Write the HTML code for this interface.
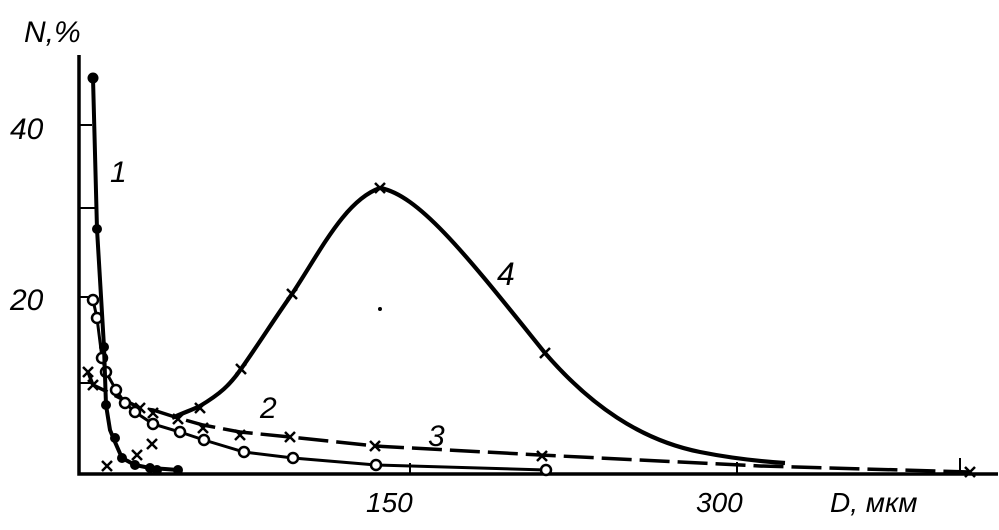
<!DOCTYPE html>
<html><head><meta charset="utf-8"><style>
html,body{margin:0;padding:0;background:#fff}
svg{display:block}
text{font-family:"Liberation Sans",sans-serif;font-style:italic;fill:#000}
</style></head><body>
<svg width="999" height="530" viewBox="0 0 999 530" xmlns="http://www.w3.org/2000/svg">
<defs>
<g id="x"><path d="M-5,-5L5,5M5,-5L-5,5" stroke="#000" stroke-width="2.5"/></g>
</defs>
<path d="M79,55V474H998" fill="none" stroke="#000" stroke-width="3.5"/>
<path d="M79,125H92M79,208H95M79,297H92M79,383H92M410,463V474M737,462V474M960,458V474" stroke="#000" stroke-width="2"/>
<text x="24" y="42" font-size="30">N,%</text>
<text x="10" y="139" font-size="30">40</text>
<text x="10" y="310" font-size="30">20</text>
<text x="366" y="512" font-size="28">150</text>
<text x="696" y="512" font-size="28">300</text>
<text x="830" y="512" font-size="28">D, мкм</text>
<text x="110" y="182" font-size="30">1</text>
<text x="260" y="418" font-size="30">2</text>
<text x="428" y="446" font-size="30">3</text>
<text x="497" y="285" font-size="32">4</text>
<circle cx="380" cy="309" r="2"/>
<path d="M172,418 C185,412 192,410 200,406 C220,394 230,385 241,369 C260,342 275,318 292,294 C320,252 345,200 380,188 C420,195 470,260 545,353 C590,405 640,440 700,452 C740,460 770,462 785,463" fill="none" stroke="#000" stroke-width="4.2"/>
<use href="#x" x="200" y="408"/><use href="#x" x="241" y="369"/><use href="#x" x="292" y="294"/><use href="#x" x="380" y="188"/><use href="#x" x="545" y="353"/>
<path d="M88,372 L93,385 L120,398 L140,408 L153,410 L178,418 L203,425 L240,432 L290,437 L375,446 L540,455 L760,466 L970,472" fill="none" stroke="#000" stroke-width="3.5" stroke-dasharray="30,8"/>
<use href="#x" x="88" y="372"/><use href="#x" x="93" y="385"/><use href="#x" x="140" y="408"/><use href="#x" x="153" y="413"/><use href="#x" x="178" y="419"/><use href="#x" x="203" y="428"/><use href="#x" x="240" y="435"/><use href="#x" x="290" y="437"/><use href="#x" x="375" y="446"/><use href="#x" x="542" y="456"/><use href="#x" x="970" y="472"/>
<use href="#x" x="107" y="466"/><use href="#x" x="137" y="455"/><use href="#x" x="152" y="444"/>
<path d="M93,300 L97,318 L102,358 L106,372 L116,390 L125,403 L135,412 L153,424 L180,432 L204,440 L244,452 L293,458 L376,465 L546,470" fill="none" stroke="#000" stroke-width="3"/>
<g fill="#fff" stroke="#000" stroke-width="2.5">
<circle cx="93" cy="300" r="5"/><circle cx="97" cy="318" r="5"/><circle cx="102" cy="358" r="5"/><circle cx="106" cy="372" r="5"/><circle cx="116" cy="390" r="5"/><circle cx="125" cy="403" r="5"/><circle cx="135" cy="412" r="5"/><circle cx="153" cy="424" r="5"/><circle cx="180" cy="432" r="5"/><circle cx="204" cy="440" r="5"/><circle cx="244" cy="452" r="5"/><circle cx="293" cy="458" r="5"/><circle cx="376" cy="465" r="5"/><circle cx="546" cy="470" r="5"/>
</g>
<path d="M93,78 L97,229 L104,347 L106,405 L110,430 L115,442 L122,458 L135,465 L150,468 L165,469 L178,470" fill="none" stroke="#000" stroke-width="4"/>
<g fill="#000">
<circle cx="93" cy="78" r="5.5"/><circle cx="97" cy="229" r="5"/><circle cx="104" cy="347" r="5"/><circle cx="106" cy="405" r="5"/><circle cx="115" cy="438" r="5"/><circle cx="122" cy="458" r="5"/><circle cx="135" cy="465" r="5"/><circle cx="150" cy="468" r="5"/><circle cx="157" cy="470" r="5"/><circle cx="178" cy="470" r="5"/>
</g>
</svg>
</body></html>
